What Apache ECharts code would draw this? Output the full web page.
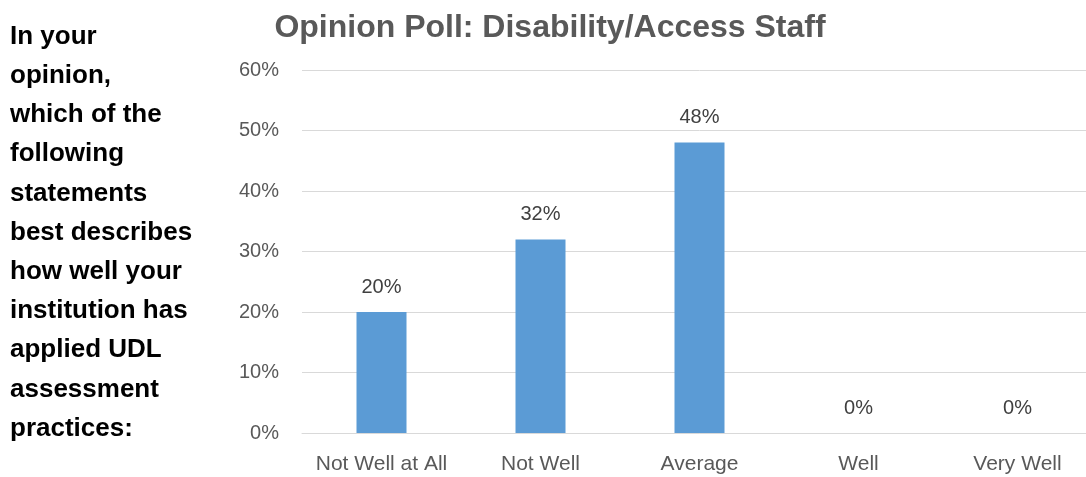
<!DOCTYPE html>
<html><head><meta charset="utf-8">
<script src="https://cdn.jsdelivr.net/npm/echarts@6/dist/echarts.min.js"></script>
<style>html,body{margin:0;padding:0;background:#fff;overflow:hidden;width:1086px;height:477px}#c{width:1100px;height:477px}</style>
</head><body><div id="c"></div>
<script>
const categories = ['Not Well at All', 'Not Well', 'Average', 'Well', 'Very Well'];
const values = [20, 32, 48, 0, 0];
const titleText = 'Opinion Poll: Disability/Access Staff';
const questionLines = ['In your', 'opinion,', 'which of the', 'following', 'statements', 'best describes', 'how well your', 'institution has', 'applied UDL', 'assessment', 'practices:'];

const chart = echarts.init(document.getElementById('c'));
chart.setOption({
  animation: false,
  title: [{
    text: titleText, left: 545, top: 7, textAlign: 'center',
    textStyle: {fontFamily: 'Liberation Sans', fontSize: 32, fontWeight: 'bold', color: '#595959'}
  }, {
    text: questionLines.join('\n'), left: 10, top: 17, padding: 0,
    textStyle: {fontFamily: 'Liberation Sans', fontSize: 26, fontWeight: 'bold', color: '#000', lineHeight: 39.2}
  }],
  grid: {left: 302, top: 70, width: 795, bottom: 44},
  xAxis: {
    type: 'category', data: categories,
    axisLine: {lineStyle: {color: '#d9d9d9', width: 1}},
    axisTick: {show: false},
    axisLabel: {interval: 0, fontFamily: 'Liberation Sans', fontSize: 21, color: '#595959', margin: 21}
  },
  yAxis: {
    type: 'value', min: 0, max: 60, interval: 10,
    axisLine: {show: false}, axisTick: {show: false},
    axisLabel: {formatter: '{value}%', fontFamily: 'Liberation Sans', fontSize: 20, color: '#595959', margin: 23},
    splitLine: {lineStyle: {color: '#d9d9d9', width: 1}}
  },
  series: [{
    type: 'bar', data: values, barWidth: 50,
    itemStyle: {color: '#5B9BD5'},
    label: {show: true, position: 'top', distance: 15, formatter: '{c}%', fontFamily: 'Liberation Sans', fontSize: 20, color: '#404040'}
  }]
});
</script></body></html>
